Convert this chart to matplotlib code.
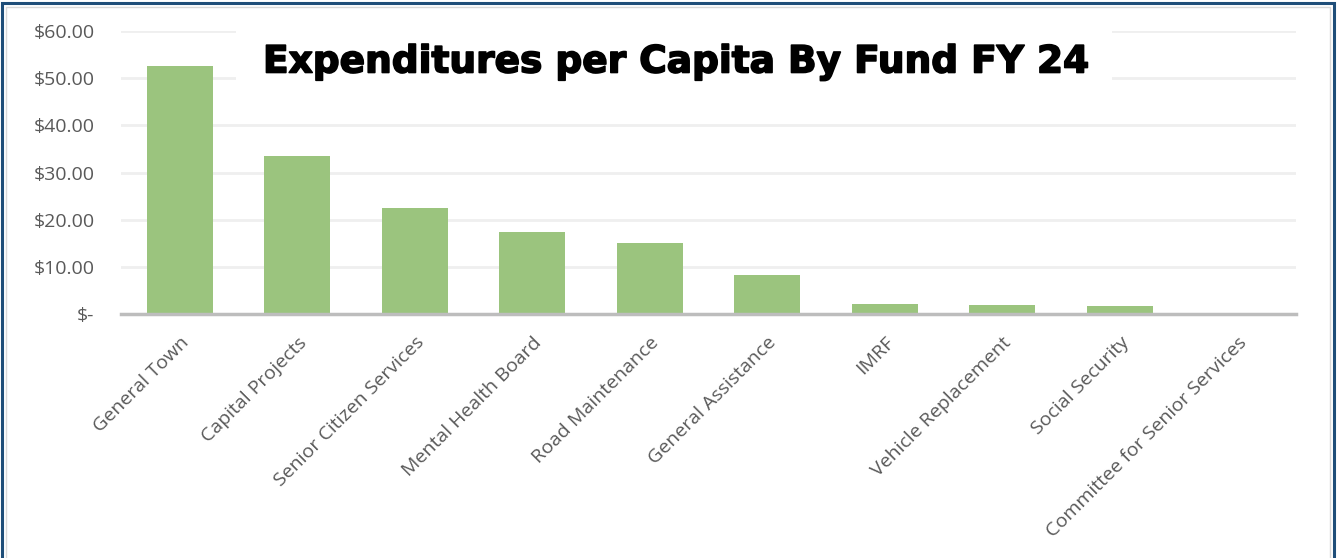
import matplotlib.pyplot as plt
import matplotlib.patheffects as pe
from matplotlib.patches import Rectangle
from matplotlib.ticker import FuncFormatter

funds = [
    "General Town", "Capital Projects", "Senior Citizen Services",
    "Mental Health Board", "Road Maintenance", "General Assistance",
    "IMRF", "Vehicle Replacement", "Social Security",
    "Committee for Senior Services",
]
per_capita = [52.6, 33.6, 22.4, 17.4, 15.1, 8.3, 2.1, 1.9, 1.7, 0.05]
y_ticks = [0, 10, 20, 30, 40, 50, 60]
title = "Expenditures per Capita By Fund FY 24"

plt.rcParams["font.family"] = ["Open Sans", "DejaVu Sans"]

W, H = 1338, 558
fig = plt.figure(figsize=(W / 100, H / 100), dpi=100)
ax = fig.add_axes([0.0904, 0.437, 0.8782, 0.5072])

x = range(len(funds))
ax.bar(x, per_capita, width=0.56, color="#9bc47e", zorder=3)

ax.set_xlim(-0.5, len(funds) - 0.5)
ax.set_ylim(0, 60)
ax.set_yticks(y_ticks)


def money(v, _pos):
    return "$-" if v == 0 else f"${v:,.2f}"


ax.yaxis.set_major_formatter(FuncFormatter(money))
ax.grid(axis="y", color="#efefef", linewidth=2, zorder=0)
ax.set_axisbelow(True)

for side in ("top", "right", "left"):
    ax.spines[side].set_visible(False)
ax.spines["bottom"].set_color("#bdbdbd")
ax.spines["bottom"].set_linewidth(2.5)
ax.spines["bottom"].set_zorder(4)

ax.tick_params(axis="both", length=0, colors="#595959", labelsize=14)
ax.tick_params(axis="y", pad=19)
ax.set_xticks(list(x))
ax.set_xticklabels(funds, rotation=45, ha="right", rotation_mode="anchor")
ax.tick_params(axis="x", pad=14)

# white backing behind the title, covering the upper gridlines
ax.add_patch(Rectangle((236 / W, 1 - 100 / H), (1112 - 236) / W, 78 / H,
                       transform=fig.transFigure, facecolor="white",
                       edgecolor="none", zorder=1))

fig.text(0.505, 0.888, title, ha="center", va="center", fontsize=27,
         fontweight="bold", color="black", family="DejaVu Sans", zorder=5,
         path_effects=[pe.withStroke(linewidth=1.2, foreground="black")])

# frame around the chart area
fig.patches.append(Rectangle((0.0015, -0.01), 0.9955, 1.005,
                             transform=fig.transFigure, fill=False,
                             edgecolor="#1f4e79", linewidth=2.2))
fig.patches.append(Rectangle((0.0045, -0.01), 0.9895, 0.998,
                             transform=fig.transFigure, fill=False,
                             edgecolor="#d9d9d9", linewidth=1))

fig.savefig("out.png", dpi=100)
